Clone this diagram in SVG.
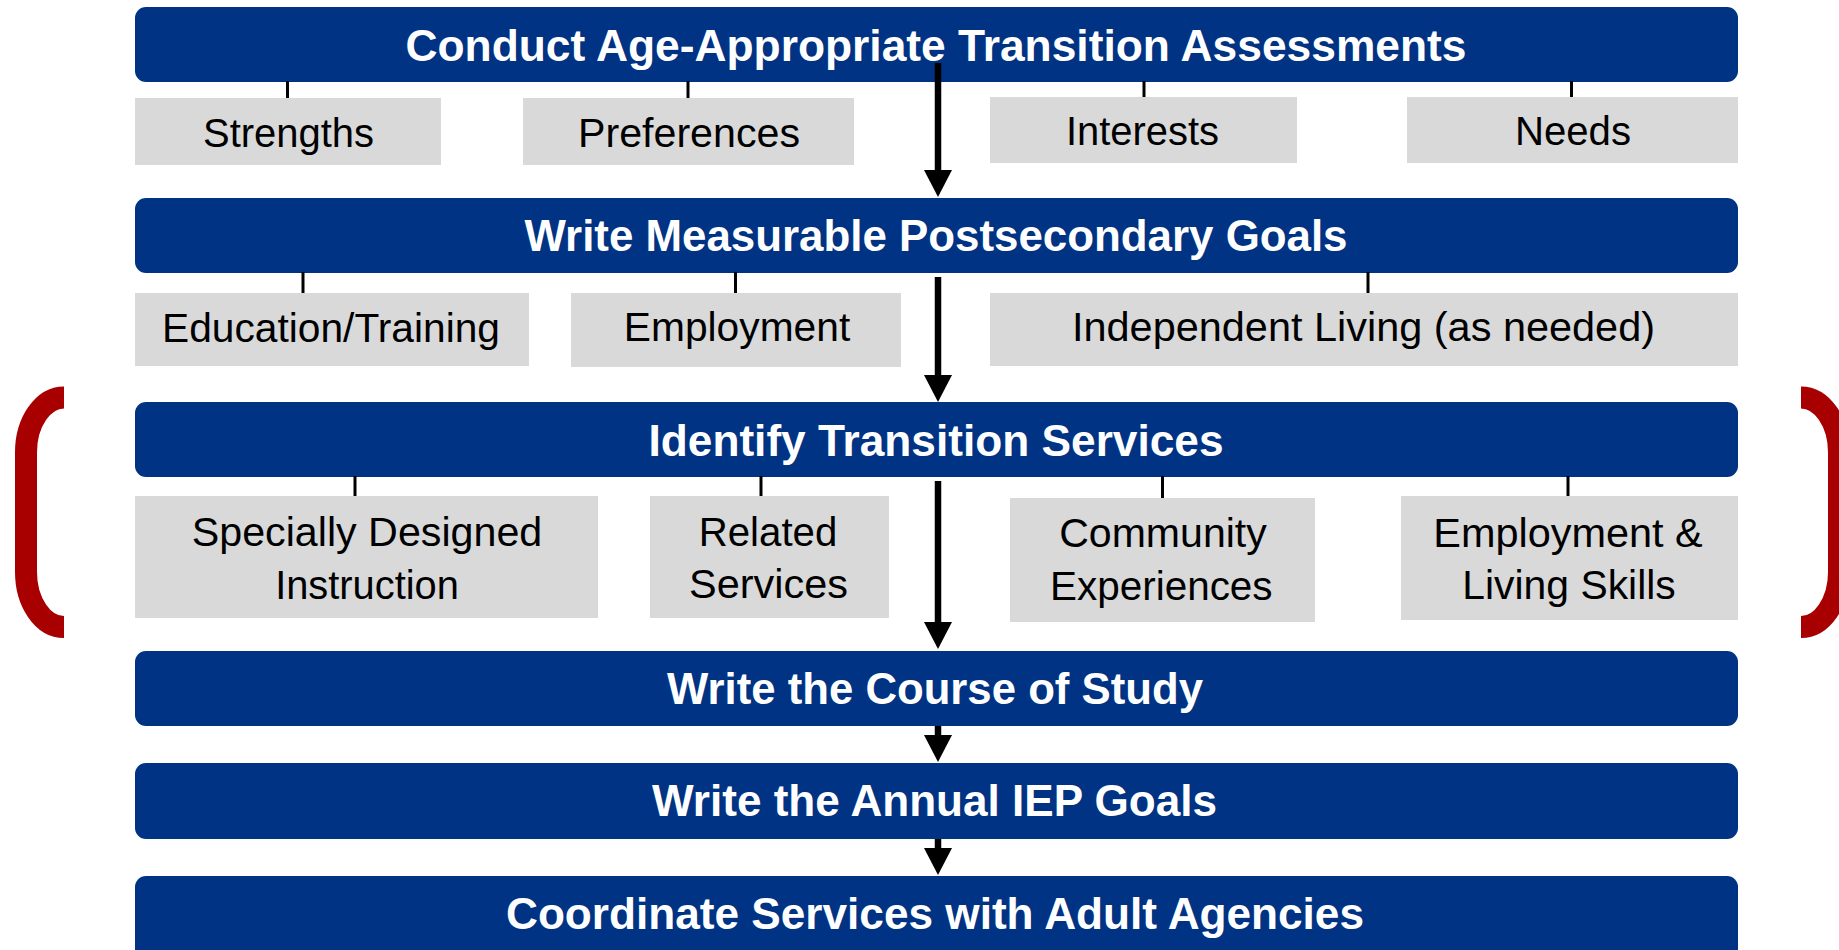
<svg xmlns="http://www.w3.org/2000/svg" width="1839" height="950" viewBox="0 0 1839 950">
<style>
.bar{fill:#003383;}
.box{fill:#D9D9D9;}
.bt{font-family:"Liberation Sans",Arial,sans-serif;font-weight:bold;font-size:44px;fill:#FFFFFF;text-anchor:middle;}
.gt{font-family:"Liberation Sans",Arial,sans-serif;font-size:40.5px;fill:#000000;text-anchor:middle;}
.tick{stroke:#000000;stroke-width:3;}
.arrow{stroke:#000000;stroke-width:6.5;fill:none;marker-end:url(#ah);}
.bracket{stroke:#A80000;stroke-width:22;fill:none;}
</style>
<defs>
<marker id="ah" viewBox="0 0 27 28" markerWidth="27" markerHeight="28" refX="7" refY="14" orient="auto" markerUnits="userSpaceOnUse">
<path d="M0,0 L27,14 L0,28 Z" fill="#000000"/>
</marker>
</defs>
<rect width="1839" height="950" fill="#FFFFFF"/>

<g id="brackets">
<path class="bracket" d="M64,397.5 A38,55 0 0 0 26,452.5 V572 A38,55 0 0 0 64,627"/>
<path class="bracket" d="M1801,397.5 A38,55 0 0 1 1839,452.5 V572 A38,55 0 0 1 1801,627"/>
</g>

<g id="step1">
<rect class="bar" x="135" y="7" width="1603" height="75" rx="11"/>
<text class="bt" x="936" y="61" textLength="1061" lengthAdjust="spacingAndGlyphs">Conduct Age-Appropriate Transition Assessments</text>
</g>
<g id="strengths"><rect class="box" x="135" y="98" width="306" height="67"/><text class="gt" x="288.5" y="147" textLength="171" lengthAdjust="spacingAndGlyphs">Strengths</text></g>
<g id="preferences"><rect class="box" x="523" y="98" width="331" height="67"/><text class="gt" x="689" y="147" textLength="222" lengthAdjust="spacingAndGlyphs">Preferences</text></g>
<g id="interests"><rect class="box" x="990" y="97" width="307" height="66"/><text class="gt" x="1142.5" y="145" textLength="153" lengthAdjust="spacingAndGlyphs">Interests</text></g>
<g id="needs"><rect class="box" x="1407" y="97" width="331" height="66"/><text class="gt" x="1573" y="145" textLength="116" lengthAdjust="spacingAndGlyphs">Needs</text></g>

<g id="step2">
<rect class="bar" x="135" y="198" width="1603" height="75" rx="11"/>
<text class="bt" x="936" y="251" textLength="823" lengthAdjust="spacingAndGlyphs">Write Measurable Postsecondary Goals</text>
</g>
<g id="education"><rect class="box" x="135" y="293" width="394" height="73"/><text class="gt" x="331" y="341.5" textLength="338" lengthAdjust="spacingAndGlyphs">Education/Training</text></g>
<g id="employment"><rect class="box" x="571" y="293" width="330" height="74"/><text class="gt" x="737" y="341" textLength="226.5" lengthAdjust="spacingAndGlyphs">Employment</text></g>
<g id="independent"><rect class="box" x="990" y="293" width="748" height="73"/><text class="gt" x="1363.5" y="341" textLength="583" lengthAdjust="spacingAndGlyphs">Independent Living (as needed)</text></g>

<g id="step3">
<rect class="bar" x="135" y="402" width="1603" height="75" rx="11"/>
<text class="bt" x="936" y="456" textLength="575" lengthAdjust="spacingAndGlyphs">Identify Transition Services</text>
</g>
<g id="sdi"><rect class="box" x="135" y="496" width="463" height="122"/><text class="gt" x="367" y="545.5" textLength="350.5" lengthAdjust="spacingAndGlyphs">Specially Designed</text><text class="gt" x="367" y="599" textLength="183.7" lengthAdjust="spacingAndGlyphs">Instruction</text></g>
<g id="related"><rect class="box" x="650" y="496" width="239" height="122"/><text class="gt" x="768" y="545.5" textLength="138.5" lengthAdjust="spacingAndGlyphs">Related</text><text class="gt" x="768.5" y="598" textLength="159" lengthAdjust="spacingAndGlyphs">Services</text></g>
<g id="community"><rect class="box" x="1010" y="498" width="305" height="124"/><text class="gt" x="1163" y="547" textLength="207.6" lengthAdjust="spacingAndGlyphs">Community</text><text class="gt" x="1161.3" y="600" textLength="222.6" lengthAdjust="spacingAndGlyphs">Experiences</text></g>
<g id="emp-living"><rect class="box" x="1401" y="496" width="337" height="124"/><text class="gt" x="1568" y="546.5" textLength="269.5" lengthAdjust="spacingAndGlyphs">Employment &amp;</text><text class="gt" x="1569" y="599" textLength="213.5" lengthAdjust="spacingAndGlyphs">Living Skills</text></g>

<g id="step4">
<rect class="bar" x="135" y="651" width="1603" height="75" rx="11"/>
<text class="bt" x="935" y="704" textLength="536" lengthAdjust="spacingAndGlyphs">Write the Course of Study</text>
</g>
<g id="step5">
<rect class="bar" x="135" y="763" width="1603" height="76" rx="11"/>
<text class="bt" x="934.5" y="816" textLength="565" lengthAdjust="spacingAndGlyphs">Write the Annual IEP Goals</text>
</g>
<g id="step6">
<rect class="bar" x="135" y="876" width="1603" height="90" rx="11"/>
<text class="bt" x="935" y="929" textLength="858" lengthAdjust="spacingAndGlyphs">Coordinate Services with Adult Agencies</text>
</g>

<g id="connectors">
<line class="tick" x1="287.5" y1="81" x2="287.5" y2="98"/>
<line class="tick" x1="688" y1="81" x2="688" y2="98"/>
<line class="tick" x1="1144" y1="81" x2="1144" y2="97"/>
<line class="tick" x1="1571.5" y1="81" x2="1571.5" y2="97"/>
<line class="tick" x1="303" y1="272" x2="303" y2="293"/>
<line class="tick" x1="735.5" y1="272" x2="735.5" y2="293"/>
<line class="tick" x1="1368" y1="272" x2="1368" y2="293"/>
<line class="tick" x1="355" y1="476" x2="355" y2="496"/>
<line class="tick" x1="761" y1="476" x2="761" y2="496"/>
<line class="tick" x1="1162.5" y1="476" x2="1162.5" y2="498"/>
<line class="tick" x1="1568" y1="476" x2="1568" y2="496"/>
<line class="arrow" x1="938" y1="63" x2="938" y2="177"/>
<line class="arrow" x1="938" y1="277" x2="938" y2="382"/>
<line class="arrow" x1="938" y1="481" x2="938" y2="629"/>
<line class="arrow" x1="938" y1="726" x2="938" y2="742"/>
<line class="arrow" x1="938" y1="839" x2="938" y2="855"/>
</g>
</svg>
